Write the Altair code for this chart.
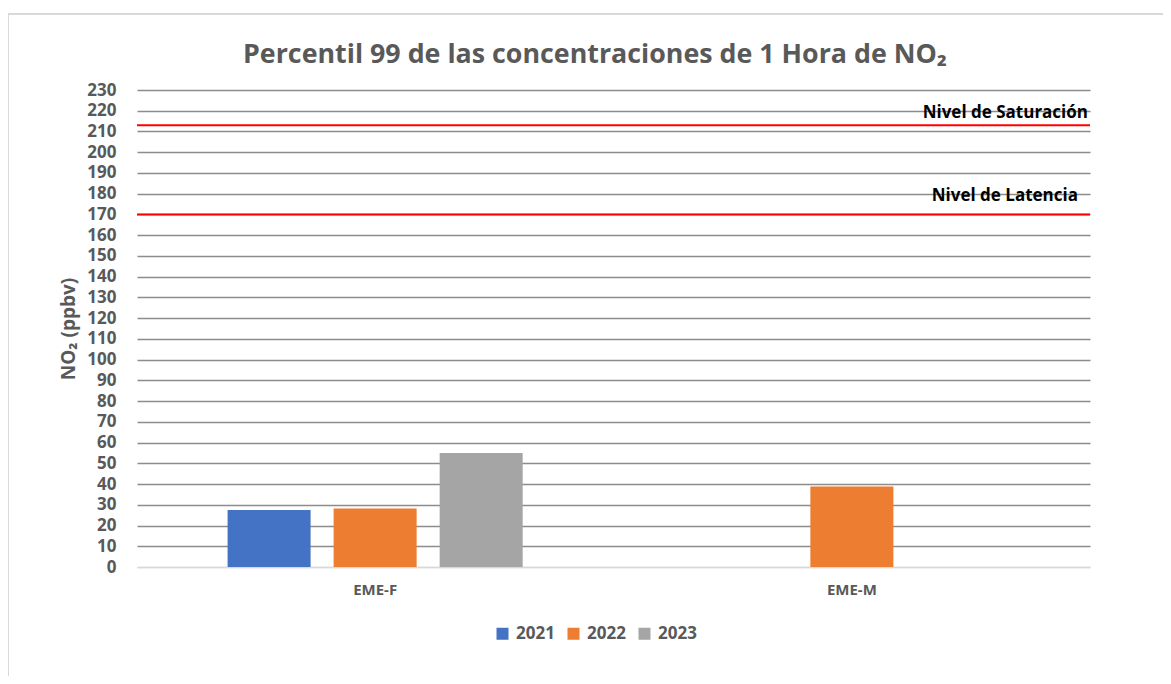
import altair as alt
import pandas as pd

estaciones = ["EME-F", "EME-M"]
anios = ["2021", "2022", "2023"]
valores_eme_f = [27.5, 28.2, 55.0]
valores_eme_m = [None, 38.8, None]
colores = ["#4472c4", "#ed7d31", "#a5a5a5"]

titulo = "Percentil 99 de las concentraciones de 1 Hora de NO₂"
nivel_saturacion = 213
nivel_latencia = 170
ticks_y = list(range(0, 231, 10))

rows = []
for est, vals in zip(estaciones, [valores_eme_f, valores_eme_m]):
    for a, v in zip(anios, vals):
        if v is not None:
            rows.append({"estacion": est, "anio": a, "valor": v})
df = pd.DataFrame(rows)

W, H = 953, 477
FONT = "Open Sans"
GRAY = "#595959"

yscale = alt.Scale(domain=[0, 230], nice=False)
yaxis = alt.Axis(title="NO₂ (ppbv)", values=ticks_y, ticks=False, domain=False, labelOverlap=False,
                 gridColor={"condition": {"test": "datum.value === 0", "value": "#d9d9d9"}, "value": "#8c8c8c"},
                 gridWidth=1.5,
                 labelFont=FONT, labelFontSize=17, labelFontWeight="bold", labelColor=GRAY,
                 labelPadding=21, titleFont=FONT, titleFontSize=19, titleFontWeight="bold",
                 titleColor=GRAY, titlePadding=8)

bars = alt.Chart(df).mark_bar().encode(
    x=alt.X("estacion:N", sort=estaciones, scale=alt.Scale(paddingInner=0.381, paddingOuter=0.19),
            axis=alt.Axis(title=None, labelAngle=0, ticks=False, domainColor="#d9d9d9", domainWidth=1.5,
                          labelFont=FONT, labelFontSize=15, labelFontWeight="bold", labelColor=GRAY,
                          labelPadding=15)),
    xOffset=alt.XOffset("anio:N", scale=alt.Scale(domain=anios, paddingInner=0.217, paddingOuter=0)),
    y=alt.Y("valor:Q", scale=yscale, axis=yaxis),
    color=alt.Color("anio:N", scale=alt.Scale(domain=anios, range=colores),
                    legend=alt.Legend(title=None, orient="none", direction="horizontal", legendX=357, legendY=535,
                                      symbolType="square", symbolSize=144, symbolStrokeWidth=0,
                                      labelFont=FONT, labelFontSize=17, labelFontWeight="bold", labelColor=GRAY,
                                      columnPadding=10, labelOffset=5)),
)

niveles = pd.DataFrame({"nivel": ["Nivel de Saturación", "Nivel de Latencia"],
                        "valor": [nivel_saturacion, nivel_latencia]})

rules = alt.Chart(niveles).mark_rule(color="#ff0000", strokeWidth=2).encode(
    y=alt.Y("valor:Q", scale=yscale, axis=yaxis)
)

txt_sat = alt.Chart(niveles.iloc[[0]]).mark_text(
    align="right", baseline="bottom", dx=-2, dy=-3, font=FONT, fontSize=17, fontWeight="bold", color="#000000"
).encode(x=alt.value(W), y=alt.Y("valor:Q", scale=yscale, axis=yaxis), text="nivel:N")

txt_lat = alt.Chart(niveles.iloc[[1]]).mark_text(
    align="right", baseline="bottom", dx=-12, dy=-9, font=FONT, fontSize=17, fontWeight="bold", color="#000000"
).encode(x=alt.value(W), y=alt.Y("valor:Q", scale=yscale, axis=yaxis), text="nivel:N")

title_df = pd.DataFrame({"t": [titulo]})
title_mark = alt.Chart(title_df).mark_text(
    align="center", baseline="alphabetic", font=FONT, fontSize=26.8, fontWeight="bold", color=GRAY
).encode(x=alt.value(458), y=alt.value(-27), text="t:N")

border = alt.Chart(pd.DataFrame({"k": [0]})).mark_rect(
    fill=None, stroke="#d9d9d9", strokeWidth=2
).encode(x=alt.value(-129), x2=alt.value(1040), y=alt.value(-76), y2=alt.value(620))

chart = alt.layer(border, bars, rules, txt_sat, txt_lat, title_mark).properties(
    width=W, height=H,
    autosize=alt.AutoSizeParams(type="none"),
    padding={"left": 129, "top": 82, "right": 73, "bottom": 109},
    background="white",
).configure_view(stroke=None)

chart.save("out.html", embed_options={"renderer": "svg", "actions": False})
